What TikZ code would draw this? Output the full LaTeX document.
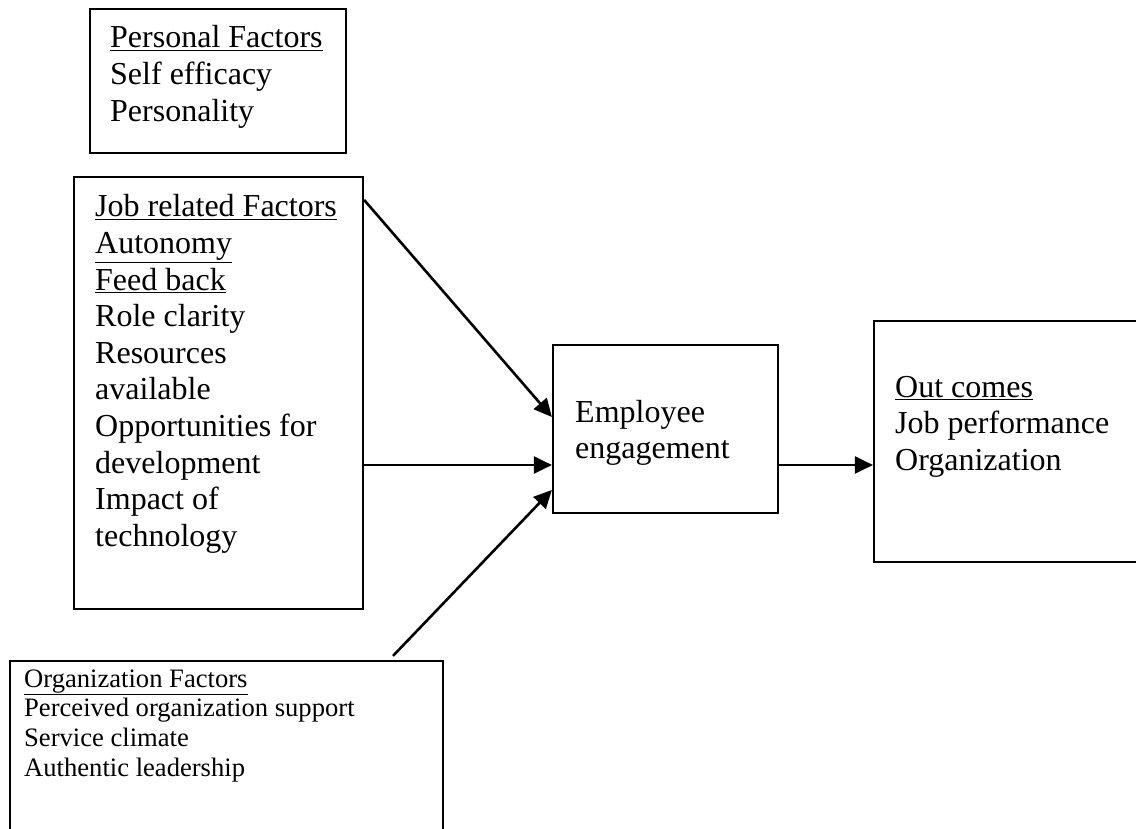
\documentclass[tikz,border=0pt]{standalone}
\usepackage{fontspec}
\setmainfont{Liberation Serif}
\usetikzlibrary{arrows.meta,calc}
\newcommand{\bigtx}{\fontsize{32}{36.6}\selectfont}
\newcommand{\smalltx}{\fontsize{26.6}{29.7}\selectfont}
\begin{document}
\begin{tikzpicture}[x=1pt,y=-1pt,
  boxst/.style={draw=black,line width=2.2pt,rectangle,inner sep=0pt},
  txt/.style={anchor=base west,inner sep=0pt,font=\bigtx},
  stxt/.style={anchor=base west,inner sep=0pt,font=\smalltx},
  arr/.style={line width=2.6pt,-{Triangle[length=18pt,width=17pt]}}]
\clip (0,0) rectangle (1136,829);
\fill[white] (0,0) rectangle (1136,829);
% boxes
\node[boxst,minimum width=256pt,minimum height=144pt] (personal) at (218,81) {};
\node[boxst,minimum width=289pt,minimum height=432pt] (job) at (218.5,393) {};
\node[boxst,minimum width=225pt,minimum height=168pt] (emp) at (665.5,429) {};
\node[boxst,minimum width=286pt,minimum height=241pt] (out) at (1017,441.5) {};
\node[boxst,minimum width=433pt,minimum height=189pt] (org) at (226.5,755.5) {};
% texts
\node[txt] (ptxt) at (110,48) {\vtop{\hbox{\underline{Personal Factors}}\hbox{Self efficacy}\hbox{Personality}}};
\node[txt] (jtxt) at (95,217) {\vtop{\hbox{\underline{Job related Factors}}\hbox{\underline{Autonomy}}\hbox{\underline{Feed back}}\hbox{Role clarity}\hbox{Resources}\hbox{available}\hbox{Opportunities for}\hbox{development}\hbox{Impact of}\hbox{technology}}};
\node[txt] (etxt) at (575,422) {\vtop{\hbox{Employee}\hbox{engagement}}};
\node[txt] (otxt) at (895,397) {\vtop{\hbox{\underline{Out comes}}\hbox{Job performance}\hbox{Organization}}};
\node[stxt] (gtxt) at (24,687) {\vtop{\hbox{\underline{Organization Factors}}\hbox{Perceived organization support}\hbox{Service climate}\hbox{Authentic leadership}}};
% arrows
\draw[arr] ($(job.north east)+(0,24)$) -- ($(emp.west)+(0,-12)$);
\draw[arr] ($(job.east)+(0,72)$) -- ($(emp.west)+(0,36)$);
\draw[arr] ($(org.north)+(166.5,-4)$) -- ($(emp.west)+(0,61)$);
\draw[arr] ($(emp.east)+(0,36)$) -- ($(out.west)+(0,23.5)$);
\end{tikzpicture}
\end{document}
